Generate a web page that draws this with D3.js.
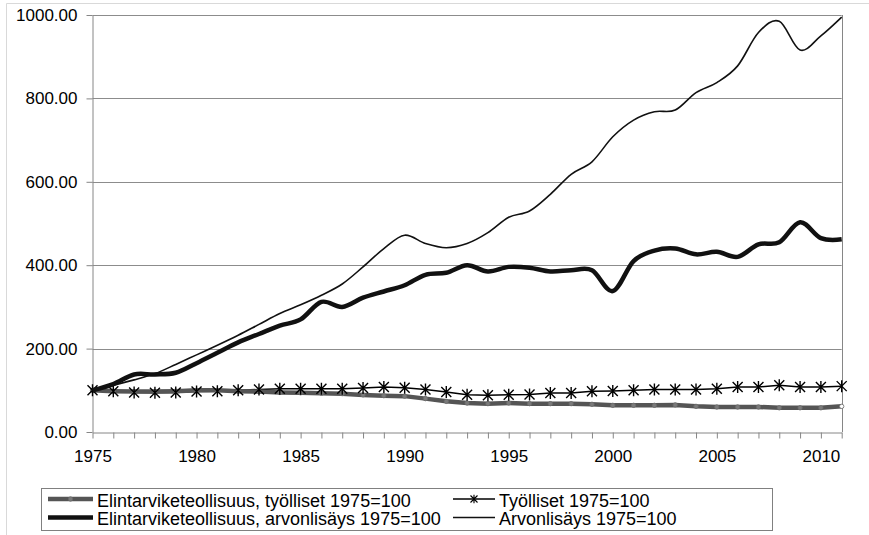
<!DOCTYPE html>
<html>
<head>
<meta charset="utf-8">
<script src="https://cdn.jsdelivr.net/npm/d3@7/dist/d3.min.js"></script>
<style>
	body { margin: 0; background: #fff; }
	text { font-family: 'Liberation Sans', Arial, sans-serif; fill: #000; }
</style>
</head>
<body>
<svg id="chart" width="869" height="535"></svg>
<script>
const years = [1975, 1976, 1977, 1978, 1979, 1980, 1981, 1982, 1983, 1984, 1985, 1986, 1987,
	1988, 1989, 1990, 1991, 1992, 1993, 1994, 1995, 1996, 1997, 1998, 1999, 2000, 2001, 2002,
	2003, 2004, 2005, 2006, 2007, 2008, 2009, 2010, 2011];

// Elintarviketeollisuus, työlliset 1975=100
const foodEmployed = [100, 98, 97, 97, 98, 100, 100, 98, 97, 95, 94, 93, 92, 89, 87, 86, 80,
	73.5, 69.5, 68, 69.5, 68, 68, 68, 66.5, 64, 64, 64, 65, 61.5, 60, 60, 60, 58, 58, 58, 61.5];
// Työlliset 1975=100
const allEmployed = [100, 98, 95, 94, 95, 97, 98, 100, 102, 104, 104, 104, 104, 105.5, 108,
	106, 102, 96, 89.5, 88, 89.5, 90, 93.5, 93.5, 97.5, 98.5, 100, 102, 102, 102, 104, 108, 108,
	112, 108, 108, 110];
// Elintarviketeollisuus, arvonlisäys 1975=100
const foodValueAdded = [100, 115, 138, 138, 142, 165, 190, 215, 235, 255, 270, 312, 300, 322,
	337, 352, 377, 382, 400, 385, 396, 394, 385, 388, 388, 338, 410, 435, 440, 426, 432, 420,
	450, 455, 503, 465, 462];
// Arvonlisäys 1975=100
const valueAdded = [100, 112, 125, 140, 162, 185, 208, 232, 258, 284, 305, 328, 355, 396, 440,
	472, 452, 442, 452, 478, 515, 530, 570, 618, 648, 708, 748, 768, 772, 814, 838, 878, 958,
	985, 916, 950, 995];

const yTicks = [0, 200, 400, 600, 800, 1000];
const xLabels = [1975, 1980, 1985, 1990, 1995, 2000, 2005, 2010];

const plotLeft = 92.5,
	plotRight = 841.7,
	plotTop = 15,
	plotBottom = 432,
	axisColor = '#868686';

const svg = d3.select('#chart');

const x = d3.scaleLinear().domain([1975, 2011]).range([plotLeft, plotRight]);
const y = d3.scaleLinear().domain([0, 1000]).range([plotBottom, plotTop]);

// chart area border (only left and top visible)
svg.append('path')
	.attr('d', 'M6.5,535V3.5H869')
	.attr('fill', 'none')
	.attr('stroke', '#d9d9d9');

// gridlines
svg.append('g')
	.selectAll('line')
	.data(yTicks.filter(d => d > 0))
	.join('line')
	.attr('x1', plotLeft)
	.attr('x2', plotRight)
	.attr('y1', d => Math.round(y(d)) + 0.5)
	.attr('y2', d => Math.round(y(d)) + 0.5)
	.attr('stroke', '#8c8c8c');

// right plot border
svg.append('line')
	.attr('x1', Math.round(plotRight) + 0.5)
	.attr('x2', Math.round(plotRight) + 0.5)
	.attr('y1', plotTop)
	.attr('y2', plotBottom)
	.attr('stroke', axisColor);

const yAxis = svg.append('g')
	.attr('transform', `translate(${Math.round(plotLeft) - 0.5},0)`)
	.call(d3.axisLeft(y).tickValues(yTicks).tickFormat(d3.format('.2f')).tickSize(6).tickPadding(9).tickSizeOuter(0));

const xAxis = svg.append('g')
	.attr('transform', `translate(0,${plotBottom + 0.5})`)
	.call(d3.axisBottom(x).tickValues(years)
		.tickFormat(d => (xLabels.includes(d) ? d : ''))
		.tickSize(6).tickPadding(11).tickSizeOuter(0));

[yAxis, xAxis].forEach(g => {
	g.selectAll('path, line').attr('stroke', axisColor);
	g.selectAll('text').attr('font-size', 17).attr('font-family', "'Liberation Sans', Arial, sans-serif").attr('fill', '#000');
});

const smooth = d3.line()
	.x((d, i) => x(years[i]))
	.y(d => y(d))
	.curve(d3.curveCatmullRom.alpha(0));

const straight = d3.line()
	.x((d, i) => x(years[i]))
	.y(d => y(d));

// Työlliset
svg.append('path')
	.attr('d', straight(allEmployed))
	.attr('fill', 'none')
	.attr('stroke', '#000')
	.attr('stroke-width', 1.5);

// Elintarviketeollisuus, työlliset
svg.append('path')
	.attr('d', straight(foodEmployed))
	.attr('fill', 'none')
	.attr('stroke', '#555')
	.attr('stroke-width', 4.5);

svg.append('g')
	.selectAll('circle')
	.data(foodEmployed)
	.join('circle')
	.attr('cx', (d, i) => x(years[i]))
	.attr('cy', d => y(d))
	.attr('r', 2.2)
	.attr('fill', (d, i) => (i === foodEmployed.length - 1 ? '#fff' : '#7a7a7a'))
	.attr('stroke', '#6a6a6a')
	.attr('stroke-width', 0.8);

const star = 'M-5,-5L5,5M-5,5L5,-5M0,-6V6';

svg.append('g')
	.selectAll('path')
	.data(allEmployed)
	.join('path')
	.attr('transform', (d, i) => `translate(${x(years[i])},${y(d)})`)
	.attr('d', star)
	.attr('fill', 'none')
	.attr('stroke', '#000')
	.attr('stroke-width', 1.4);

// Elintarviketeollisuus, arvonlisäys
svg.append('path')
	.attr('d', smooth(foodValueAdded))
	.attr('fill', 'none')
	.attr('stroke', '#111')
	.attr('stroke-width', 4.5);

// Arvonlisäys
svg.append('path')
	.attr('d', smooth(valueAdded))
	.attr('fill', 'none')
	.attr('stroke', '#111')
	.attr('stroke-width', 1.6);

// legend
const legend = svg.append('g');

legend.append('rect')
	.attr('x', 41.5)
	.attr('y', 488.5)
	.attr('width', 731)
	.attr('height', 42)
	.attr('fill', '#fff')
	.attr('stroke', '#808080');

const legendItems = [
	{ label: 'Elintarviketeollisuus, työlliset 1975=100', x: 48, row: 0, color: '#555', width: 4.5, mark: 'dot' },
	{ label: 'Työlliset 1975=100', x: 453, row: 0, color: '#000', width: 1.5, mark: 'star' },
	{ label: 'Elintarviketeollisuus, arvonlisäys 1975=100', x: 48, row: 1, color: '#111', width: 4.5, mark: null },
	{ label: 'Arvonlisäys 1975=100', x: 453, row: 1, color: '#111', width: 1.6, mark: null }
];

const item = legend.selectAll('g.item')
	.data(legendItems)
	.join('g')
	.attr('class', 'item')
	.attr('transform', d => `translate(${d.x},${499 + d.row * 18.5})`);

item.append('line')
	.attr('x1', 0)
	.attr('x2', d => (d.x === 48 ? 45 : 42))
	.attr('stroke', d => d.color)
	.attr('stroke-width', d => d.width);

item.filter(d => d.mark === 'dot')
	.append('circle')
	.attr('cx', 22.5)
	.attr('r', 2.2)
	.attr('fill', '#7a7a7a')
	.attr('stroke', '#6a6a6a')
	.attr('stroke-width', 0.8);

item.filter(d => d.mark === 'star')
	.append('path')
	.attr('transform', 'translate(21,0) scale(0.7)')
	.attr('d', star)
	.attr('fill', 'none')
	.attr('stroke', '#000')
	.attr('stroke-width', 1.6);

item.append('text')
	.attr('x', d => (d.x === 48 ? 49 : 46))
	.attr('y', 7.5)
	.attr('font-size', 18)
	.text(d => d.label);
</script>
</body>
</html>
